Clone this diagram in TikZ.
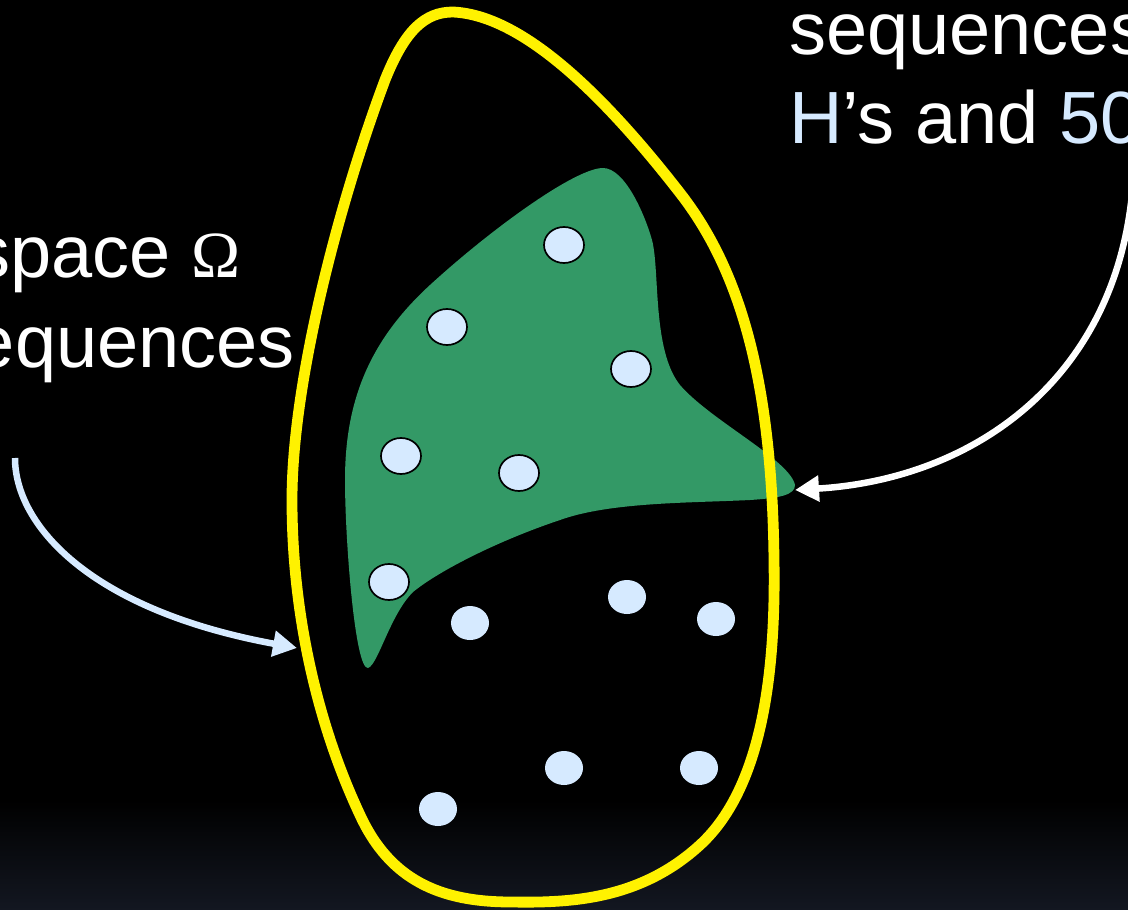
\documentclass[tikz,border=0pt]{standalone}
\usepackage{fontspec}
\setmainfont{Liberation Sans}
\newfontfamily\omfont{Liberation Serif}
\usetikzlibrary{arrows.meta,shapes.geometric}
\definecolor{ltblue}{RGB}{214,234,255}
\definecolor{setgreen}{RGB}{51,153,102}
\definecolor{navy}{RGB}{19,23,33}
\begin{document}
\begin{tikzpicture}[x=1pt,y=-1pt,
  dotin/.style={ellipse,draw=black,line width=1.7pt,fill=ltblue,minimum width=40pt,minimum height=36pt,inner sep=0pt},
  dotout/.style={ellipse,fill=ltblue,minimum width=38pt,minimum height=34pt,inner sep=0pt},
  txt/.style={inner sep=0pt,text=white,font=\fontsize{74}{89}\selectfont},
  conn/.style={line width=6.5pt,-{Triangle[length=24pt,width=25pt]}}]
\useasboundingbox (0,0) rectangle (1128,910);
\clip (0,0) rectangle (1128,910);
\fill[black] (0,0) rectangle (1128,910);
\shade[top color=black,bottom color=navy] (0,800) rectangle (1128,910);

% text
\node[txt,anchor=base west] (t1) at (-27,277) {space {\omfont\fontsize{66}{70}\selectfont Ω}};
\node[txt,anchor=base east] (t2) at (295,367) {equences};
\node[txt,anchor=base west] (t3) at (789,54) {sequences};
\node[txt,anchor=base west] (t4) at (789,143) {\textcolor{ltblue}{H}’s and \textcolor{ltblue}{50}};

% green event
\fill[setgreen] (603,168) .. controls (625,168) and (645,215) .. (652,240)
  .. controls (660,270) and (652,350) .. (680,385)
  .. controls (710,420) and (790,460) .. (795,485)
  .. controls (795,495) and (780,498) .. (750,500)
  .. controls (690,503) and (610,502) .. (560,520)
  .. controls (500,540) and (440,570) .. (413,592)
  .. controls (390,615) and (378,665) .. (368,668)
  .. controls (355,670) and (345,540) .. (345,480)
  .. controls (345,400) and (370,340) .. (430,285)
  .. controls (490,230) and (575,168) .. (603,168) -- cycle;

% dots inside the event
\node[dotin] (a1) at (564,245) {};
\node[dotin] (a2) at (447,327) {};
\node[dotin] (a3) at (631,369) {};
\node[dotin] (a4) at (401,456) {};
\node[dotin] (a5) at (519,473) {};
\node[dotin] (a6) at (389,582) {};

% sample space outline
\draw[yellow,line width=10.8pt] (453,12) .. controls (520,15) and (600,90) .. (680,193)
  .. controls (740,270) and (772,380) .. (774,560)
  .. controls (776,680) and (760,790) .. (700,845)
  .. controls (640,900) and (570,903) .. (511,902)
  .. controls (440,902) and (390,880) .. (360,815)
  .. controls (320,730) and (292,620) .. (292,500)
  .. controls (292,380) and (340,200) .. (385,80)
  .. controls (405,30) and (425,12) .. (453,12) -- cycle;

% dots outside the event
\node[dotout] (b1) at (470,623) {};
\node[dotout] (b2) at (627,597) {};
\node[dotout] (b3) at (716,619) {};
\node[dotout] (b4) at (564,768) {};
\node[dotout] (b5) at (699,768) {};
\node[dotout] (b6) at (438,809) {};

% connectors
\coordinate (lstart) at (15,458);
\coordinate (ltip) at (297,648);
\coordinate (rstart) at (1134,150);
\coordinate (rtip) at (795,490);
\draw[conn,ltblue] (lstart) .. controls (15,525) and (90,610) .. (ltip);
\draw[conn,white] (rstart) .. controls (1135,360) and (990,478) .. (rtip);
\end{tikzpicture}
\end{document}
